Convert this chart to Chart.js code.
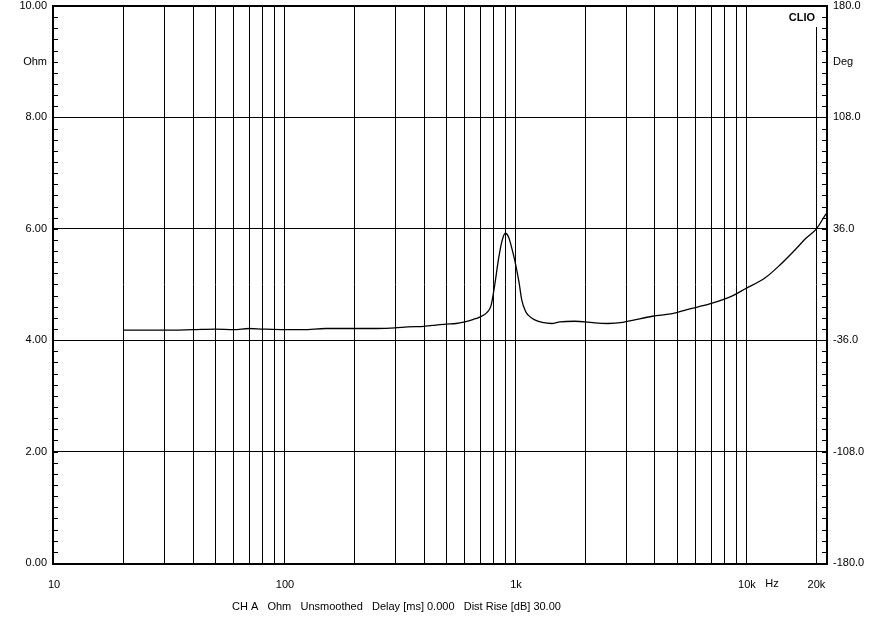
<!DOCTYPE html>
<html>
<head>
<meta charset="utf-8">
<script src="https://cdn.jsdelivr.net/npm/chart.js@4.4.1/dist/chart.umd.min.js"></script>
<style>
    html, body { margin: 0; padding: 0; background: #fff; }
    #wrap { position: relative; width: 884px; height: 631px; }
</style>
</head>
<body>
<div id="wrap"><canvas id="chart"></canvas></div>
<script>
// Impedance curve (Hz / Ohm)
const freqHz = [20, 30, 40, 50, 60, 70, 80, 100, 120, 150, 200, 250, 300, 340, 400, 450, 500, 550, 600, 650,
    700, 750, 780, 810, 840, 870, 900, 930, 960, 990, 1030, 1060, 1100, 1130, 1200, 1300, 1430, 1550, 1800, 2000,
    2200, 2500, 2900, 3300, 3900, 4800, 5500, 6900, 8700, 9800, 12000, 13900, 16400, 18000, 20000, 22000];
const impedanceOhm = [4.18, 4.18, 4.19, 4.20, 4.19, 4.21, 4.20, 4.19, 4.19, 4.21, 4.21, 4.21, 4.22, 4.24, 4.25, 4.27, 4.29, 4.30, 4.33, 4.37,
    4.42, 4.50, 4.62, 5.00, 5.45, 5.78, 5.92, 5.85, 5.65, 5.42, 5.05, 4.72, 4.52, 4.45, 4.37, 4.32, 4.30, 4.33, 4.34, 4.33,
    4.31, 4.30, 4.32, 4.37, 4.43, 4.48, 4.55, 4.65, 4.80, 4.92, 5.12, 5.35, 5.65, 5.83, 6.00, 6.27];

// Axes
const gridFreqs = [20, 30, 40, 50, 60, 70, 80, 90, 100, 200, 300, 400, 500, 600, 700, 800, 900,
    1000, 2000, 3000, 4000, 5000, 6000, 7000, 8000, 9000, 10000, 20000];
const labelFreqs = [10, 100, 1000, 10000, 20000];
const labelTexts = ['10', '100', '1k', '10k', '20k'];
const ohmTicks = [0, 2, 4, 6, 8, 10];
const ohmUnitAt = 9;
const degTicks = [-180, -108, -36, 36, 108, 180];
const degUnitAt = 144;

const FONT = 'Liberation Sans, Arial, sans-serif';
const footer = 'CH A   Ohm   Unsmoothed   Delay [ms] 0.000   Dist Rise [dB] 30.00';

// frame, minor ticks, CLIO tag, Hz and footer
const decor = {
    id: 'decor',
    afterDraw(chart) {
        const { ctx, chartArea: a, scales } = chart;
        ctx.save();
        ctx.strokeStyle = '#000';
        ctx.lineWidth = 1;
        for (let v = 0.2; v < 10; v += 0.2) {
            const y = Math.round(scales.y.getPixelForValue(v)) + 0.5;
            ctx.beginPath();
            ctx.moveTo(a.left, y); ctx.lineTo(a.left + 4, y);
            ctx.moveTo(a.right - 4, y); ctx.lineTo(a.right, y);
            ctx.stroke();
        }
        ctx.lineWidth = 2;
        ctx.strokeRect(a.left - 1, a.top, a.right - a.left + 2, a.bottom - a.top + 1);

        ctx.fillStyle = '#fff';
        ctx.fillRect(a.right - 44, a.top + 1, 36, 20);
        ctx.fillStyle = '#000';
        ctx.font = 'bold 11px ' + FONT;
        ctx.textAlign = 'right';
        ctx.textBaseline = 'middle';
        ctx.fillText('CLIO', a.right - 11, a.top + 12);

        ctx.font = '11px ' + FONT;
        ctx.textAlign = 'center';
        ctx.textBaseline = 'top';
        ctx.fillText('Hz', scales.x.getPixelForValue(10000) + 25, a.bottom + 15);
        ctx.textAlign = 'left';
        ctx.fillText(footer, 232, a.bottom + 38);
        ctx.restore();
    }
};

// keep the plot box where the reference has it
function noPad(s) {
    s.paddingTop = 0; s.paddingBottom = 0;
    s.paddingLeft = 0; s.paddingRight = 0;
}

new Chart(document.getElementById('chart'), {
    type: 'line',
    data: {
        datasets: [{
            data: freqHz.map((f, i) => ({ x: f, y: impedanceOhm[i] })),
            borderColor: '#000',
            borderWidth: 1.3,
            pointRadius: 0,
            cubicInterpolationMode: 'monotone',
            yAxisID: 'y'
        }]
    },
    options: {
        responsive: true,
        maintainAspectRatio: false,
        animation: false,
        layout: { padding: { top: 6, left: 0, right: 0, bottom: 0 } },
        plugins: { legend: { display: false }, tooltip: { enabled: false } },
        scales: {
            x: {
                type: 'logarithmic',
                min: 10, max: 22000,
                afterBuildTicks: s => { s.ticks = [10, ...gridFreqs].map(v => ({ value: v })); },
                afterFit: s => { s.height = 68; noPad(s); },
                grid: {
                    color: c => (c.tick && c.tick.value === 10) ? 'rgba(0,0,0,0)' : '#000',
                    lineWidth: 1,
                    drawTicks: false
                },
                border: { display: false },
                ticks: {
                    autoSkip: false, maxRotation: 0, padding: 15, color: '#000',
                    font: { family: FONT, size: 11 },
                    callback: v => {
                        const i = labelFreqs.indexOf(v);
                        return i >= 0 ? labelTexts[i] : '';
                    }
                }
            },
            y: {
                position: 'left',
                min: 0, max: 10,
                afterBuildTicks: s => { s.ticks = [...ohmTicks, ohmUnitAt].sort((a, b) => a - b).map(v => ({ value: v })); },
                afterFit: s => { s.width = 54; noPad(s); },
                grid: {
                    color: c => {
                        const v = c.tick ? c.tick.value : 0;
                        return (v === 0 || v === 10 || v === ohmUnitAt) ? 'rgba(0,0,0,0)' : '#000';
                    },
                    lineWidth: 1,
                    drawTicks: false
                },
                border: { display: false },
                ticks: {
                    padding: 7, color: '#000',
                    font: { family: FONT, size: 11 },
                    callback: v => v === ohmUnitAt ? 'Ohm' : v.toFixed(2)
                }
            },
            y2: {
                position: 'right',
                min: -180, max: 180,
                afterBuildTicks: s => { s.ticks = [...degTicks, degUnitAt].sort((a, b) => a - b).map(v => ({ value: v })); },
                afterFit: s => { s.width = 58; noPad(s); },
                grid: { display: false, drawTicks: false },
                border: { display: false },
                ticks: {
                    padding: 7, color: '#000',
                    font: { family: FONT, size: 11 },
                    callback: v => v === degUnitAt ? 'Deg' : v.toFixed(1)
                }
            }
        }
    },
    plugins: [decor]
});
</script>
</body>
</html>
